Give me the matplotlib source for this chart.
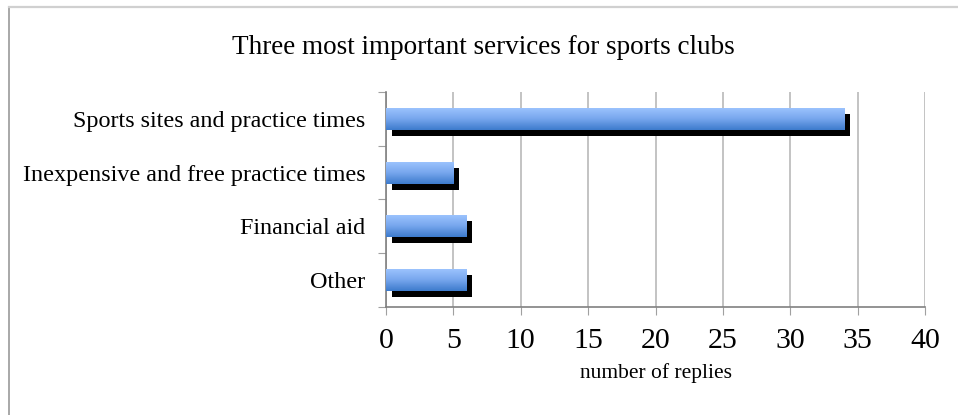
import numpy as np
import matplotlib
matplotlib.use("Agg")
import matplotlib.pyplot as plt
import matplotlib.transforms as mtransforms
from matplotlib.lines import Line2D
from matplotlib.colors import LinearSegmentedColormap

categories = ["Sports sites and practice times",
              "Inexpensive and free practice times",
              "Financial aid",
              "Other"]
replies = [34, 5, 6, 6]
x_ticks = [0, 5, 10, 15, 20, 25, 30, 35, 40]

title = "Three most important services for sports clubs"
x_label = "number of replies"

plt.rcParams["font.family"] = ["Liberation Serif", "DejaVu Serif"]

fig = plt.figure(figsize=(9.58, 4.15), dpi=100)
fig.patch.set_facecolor("white")

# outer chart frame (left and top edges)
fig.add_artist(Line2D([9 / 958, 9 / 958], [0, 1 - 7 / 415],
                      transform=fig.transFigure, color="#9a9a9a", lw=1.2))
fig.add_artist(Line2D([9 / 958, 1], [1 - 7 / 415, 1 - 7 / 415],
                      transform=fig.transFigure, color="#d0d0d0", lw=1.6))

ax = fig.add_axes([386 / 958, 1 - 307 / 415, (925 - 386) / 958, (307 - 92) / 415])

n = len(categories)
ypos = np.arange(n)
bar_h = 0.41

# shadow bars, shifted right and down by a few pixels
shadow_tr = ax.transData + mtransforms.ScaledTranslation(5.5 / 100, -6 / 100, fig.dpi_scale_trans)
ax.barh(ypos, replies, height=bar_h, color="black", transform=shadow_tr, zorder=2)

bars = ax.barh(ypos, replies, height=bar_h, color="none", zorder=3)

cmap = LinearSegmentedColormap.from_list("bluegrad", ["#9ec5ff", "#78a7ee", "#3d7bcc"])
grad = np.linspace(0, 1, 100).reshape(-1, 1)
for rect in bars:
    x0, y0 = rect.get_x(), rect.get_y()
    w, h = rect.get_width(), rect.get_height()
    im = ax.imshow(grad, cmap=cmap, aspect="auto", zorder=3,
                   extent=[x0, x0 + w, y0 + h, y0], origin="upper",
                   interpolation="bilinear")
    im.set_clip_path(rect)

ax.set_xlim(0, 40)
ax.set_ylim(n - 0.5, -0.5)
ax.set_xticks(x_ticks)
ax.set_xticklabels([str(t) for t in x_ticks], fontsize=21.5)
ax.xaxis.grid(True, color="#b3b3b3", lw=1.1, zorder=0)
ax.set_axisbelow(True)

ax.set_yticks(np.arange(n + 1) - 0.5)
ax.set_yticklabels([])
ax.set_yticks(ypos, minor=True)
ax.set_yticklabels(categories, minor=True, fontsize=17.4)
ax.tick_params(axis="y", which="minor", length=0, pad=15)
ax.tick_params(axis="y", which="major", length=6, color="#a0a0a0", direction="out")
ax.tick_params(axis="x", length=6, color="#a0a0a0", direction="out", pad=9)

for side in ["top", "right"]:
    ax.spines[side].set_visible(False)
for side in ["left", "bottom"]:
    ax.spines[side].set_color("#808080")
    ax.spines[side].set_linewidth(1.2)

ax.set_xlabel(x_label, fontsize=15.5, labelpad=7)
fig.text(483 / 958, 1 - 48 / 415, title, ha="center", va="center", fontsize=19.5)

fig.savefig("out.png", dpi=100, facecolor="white")
